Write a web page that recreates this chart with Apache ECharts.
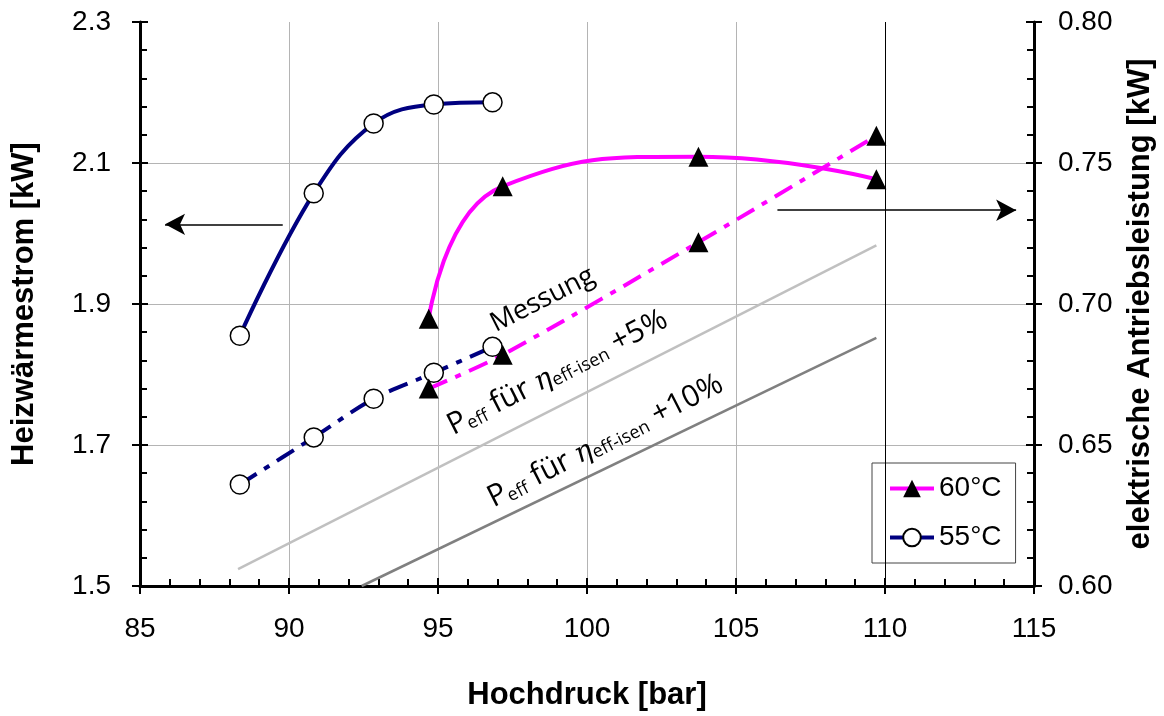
<!DOCTYPE html>
<html><head><meta charset="utf-8">
<script src="https://cdn.jsdelivr.net/npm/echarts@6/dist/echarts.min.js"></script>
<style>html,body{margin:0;padding:0;background:#fff}#c{width:1164px;height:716px}</style>
</head><body><div id="c"></div>
<script>
// ---- data ----
const xRange = [85, 115];
const leftRange = [1.5, 2.3];
const rightRange = [0.6, 0.8];
const press55 = [88.35, 90.83, 92.84, 94.86, 96.83];
const heat55 = [1.855, 2.057, 2.156, 2.183, 2.186];
const power55 = [0.636, 0.6527, 0.6664, 0.6756, 0.6848];
const press60 = [94.69, 97.17, 103.74, 109.71];
const heat60 = [1.879, 2.067, 2.109, 2.077];
const power60 = [0.670, 0.682, 0.7219, 0.7597];
const ref5Press = [88.29, 109.71];
const ref5Power = [0.606, 0.7208];
const ref10Press = [92.44, 109.71];
const ref10Power = [0.600, 0.688];
const arrowLeft = [[89.79, 2.013], [85.84, 2.013]];
const arrowRight = [[106.39, 2.033], [114.40, 2.033]];
const markX = 110;
const notes = [
  {pos: [98.51, 1.906], kind: 'mess'},
  {pos: [98.98, 1.805], kind: '+5%'},
  {pos: [100.59, 1.708], kind: '+10%'}
];

const pairs = (xs, ys) => xs.map((x, i) => [x, ys[i]]);
const LAB = 'Liberation Sans, Arial, sans-serif';
const ANN = 'Open Sans, Noto Sans, sans-serif';

const chart = echarts.init(document.getElementById('c'));

function xAx(main) {
  return {
    type: 'value', min: xRange[0], max: xRange[1], interval: 5, position: 'bottom',
    name: main ? 'Hochdruck [bar]' : '', nameLocation: 'middle', nameGap: 94,
    nameTextStyle: {fontFamily: LAB, fontSize: 31, fontWeight: 'bold', color: '#000'},
    axisLine: {show: main, onZero: false, lineStyle: {color: '#000', width: 3}},
    axisTick: {show: true, inside: main, length: 8, lineStyle: {color: '#000', width: 2}},
    minorTick: {show: main, splitNumber: 5, length: 7, lineStyle: {color: '#000', width: 2}},
    axisLabel: {show: main, margin: 29, fontFamily: LAB, fontSize: 28, color: '#000'},
    splitLine: {show: main, showMinLine: false, showMaxLine: false, lineStyle: {color: '#b4b4b4', width: 1}},
    minorSplitLine: {show: false}
  };
}
function yAx(main, right) {
  const r = right ? rightRange : leftRange;
  return {
    type: 'value', min: r[0], max: r[1], interval: right ? 0.05 : 0.2,
    position: right ? 'right' : 'left',
    name: main ? (right ? 'elektrische Antriebsleistung [kW]' : 'Heizwärmestrom [kW]') : '',
    nameLocation: 'middle', nameRotate: 90, nameGap: right ? 91 : 100,
    nameTextStyle: {fontFamily: LAB, fontSize: 31, fontWeight: 'bold', color: '#000'},
    axisLine: {show: main, onZero: false, lineStyle: {color: '#000', width: 3}},
    axisTick: {show: true, inside: main, length: 8, lineStyle: {color: '#000', width: 2}},
    minorTick: {show: main, splitNumber: 5, length: 7, lineStyle: {color: '#000', width: 2}},
    axisLabel: {show: main, margin: right ? 24 : 29, fontFamily: LAB, fontSize: 28, color: '#000',
      formatter: v => v.toFixed(right ? 2 : 1)},
    splitLine: {show: main && !right, showMinLine: false, showMaxLine: false, lineStyle: {color: '#b4b4b4', width: 1}}
  };
}

const dash = [20, 9, 6, 9];
const circleStyle = {color: '#fff', borderColor: '#000', borderWidth: 1.5};
const triStyle = {color: '#000'};

chart.setOption({
  animation: false,
  backgroundColor: '#fff',
  grid: {left: 140, right: 129, top: 22, bottom: 128, containLabel: false},
  xAxis: [xAx(true), xAx(false)],
  yAxis: [yAx(true, false), yAx(true, true), yAx(false, false), yAx(false, true)],
  legend: {
    data: ['60°C', '55°C'], orient: 'vertical', left: 872, top: 463,
    padding: [11, 14, 11, 16], itemGap: 20, itemWidth: 44, itemHeight: 22,
    backgroundColor: '#fff', borderColor: '#444', borderWidth: 1, borderRadius: 0,
    selectedMode: false,
    lineStyle: {width: 4},
    textStyle: {fontFamily: LAB, fontSize: 28, color: '#000', lineHeight: 29, padding: [0, 0, 0, 0]}
  },
  series: [
    {name: 'ref5', type: 'line', xAxisIndex: 0, yAxisIndex: 1, data: pairs(ref5Press, ref5Power),
      symbol: 'none', silent: true, lineStyle: {color: '#c0c0c0', width: 2.5}, z: 2},
    {name: 'ref10', type: 'line', xAxisIndex: 0, yAxisIndex: 1, data: pairs(ref10Press, ref10Power),
      symbol: 'none', silent: true, lineStyle: {color: '#808080', width: 2.5}, z: 2,
      markLine: {silent: true, symbol: 'none', label: {show: false},
        lineStyle: {color: '#000', width: 1, type: 'solid'}, data: [{xAxis: markX}]}},
    {name: 'P55', type: 'line', xAxisIndex: 0, yAxisIndex: 1, data: pairs(press55, power55),
      smooth: 0.3, symbol: 'circle', symbolSize: 19, itemStyle: circleStyle,
      lineStyle: {color: '#000080', width: 4, type: dash}, z: 3},
    {name: 'P60', type: 'line', xAxisIndex: 0, yAxisIndex: 1, data: pairs(press60, power60),
      smooth: 0.3, symbol: 'triangle', symbolSize: 20, itemStyle: triStyle,
      lineStyle: {color: '#ff00ff', width: 4, type: dash}, z: 3},
    {name: '55°C', type: 'line', xAxisIndex: 0, yAxisIndex: 0, data: pairs(press55, heat55),
      smooth: 0.4, symbol: 'circle', symbolSize: 19, itemStyle: circleStyle,
      lineStyle: {color: '#000080', width: 4}, z: 4,
      markLine: {silent: true, symbol: ['none', 'arrow'], symbolSize: [16, 20], label: {show: false},
        lineStyle: {color: '#000', width: 1.5, type: 'solid'},
        data: [[{coord: arrowLeft[0]}, {coord: arrowLeft[1]}], [{coord: arrowRight[0]}, {coord: arrowRight[1]}]]}},
    {name: '60°C', type: 'line', xAxisIndex: 0, yAxisIndex: 0, data: pairs(press60, heat60),
      smooth: 0.5, symbol: 'triangle', symbolSize: 20, itemStyle: triStyle,
      lineStyle: {color: '#ff00ff', width: 4}, z: 4}
  ]
});

const rich = {
  b: {fontFamily: ANN, fontSize: 30, color: '#000', verticalAlign: 'bottom', lineHeight: 34},
  s: {fontFamily: ANN, fontSize: 18, color: '#000', verticalAlign: 'bottom', lineHeight: 30},
  sp: {fontFamily: ANN, fontSize: 30, color: '#000', verticalAlign: 'bottom', lineHeight: 34},
  g: {fontFamily: 'DejaVu Serif, Liberation Serif, serif', fontStyle: 'italic', fontSize: 28, color: '#000', verticalAlign: 'bottom', lineHeight: 34}
};
const rot = 0.47;
const graphics = notes.map(n => {
  const p = chart.convertToPixel({xAxisIndex: 0, yAxisIndex: 0}, n.pos);
  let text;
  if (n.kind === 'mess') text = '{m|Messung}';
  else text = '{b|P}{s|eff}{sp| }{b|für}{sp| }{g|η}{s|eff-isen}{sp| }{b|' + n.kind + '}';
  return {
    type: 'text', x: p[0], y: p[1], rotation: rot, silent: true, z: 10,
    style: {text: text, align: 'center', verticalAlign: 'middle',
      rich: Object.assign({m: {fontFamily: ANN, fontSize: 27, color: '#000'}}, rich)}
  };
});
chart.setOption({graphic: graphics});
</script></body></html>
